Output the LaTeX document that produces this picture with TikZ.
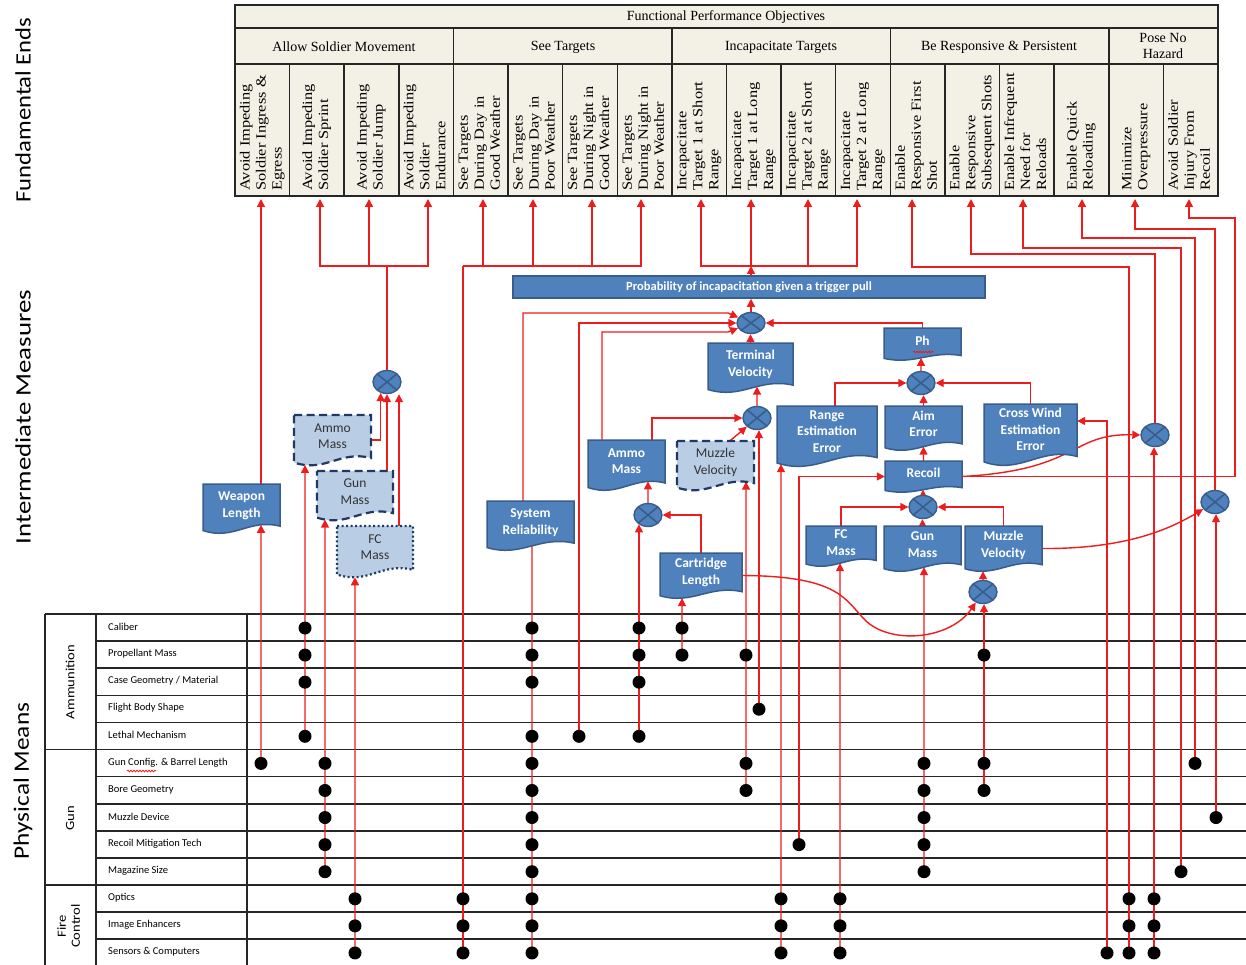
\documentclass[tikz,border=0pt]{standalone}
\usepackage{graphicx}
\usepackage{fontspec}
\setmainfont{Liberation Serif}
\newfontfamily\calfont{Carlito}
\usetikzlibrary{arrows.meta,shapes.geometric,intersections,decorations.pathmorphing}

\definecolor{boxblue}{RGB}{79,129,189}
\definecolor{boxedge}{RGB}{56,93,138}
\definecolor{lightbox}{RGB}{185,205,229}
\definecolor{navy}{RGB}{31,56,100}
\definecolor{wirered}{RGB}{238,28,28}
\definecolor{cream}{RGB}{243,240,230}

\pgfdeclarelayer{grid}
\pgfdeclarelayer{wires}
\pgfsetlayers{grid,wires,main}

% document-shaped box: name, outline style, text style, x, y, w, h, text
\newcommand\docbox[8]{%
  \path[#2,name path global=wave-#1] ({#4-#6/2},{#5-#7/2}) -- ({#4+#6/2},{#5-#7/2})
    -- ({#4+#6/2},{#5+0.36*#7}) .. controls ({#4+0.1*#6},{#5+0.2*#7}) and ({#4-0.1*#6},{#5+0.66*#7})
    .. ({#4-#6/2},{#5+0.45*#7}) -- cycle;
  \node[docnode,#3,minimum width=#6pt,minimum height=#7pt] (#1) at (#4,#5)
    {\raisebox{\dimexpr#7pt*6/100\relax}[\height][\depth]{\begin{tabular}{@{}c@{}}#8\end{tabular}}};%
}
% vertical connector that stops on the wavy bottom edge of a box
\newcommand\rise[3]{%
  \path[name path=riser] (#2) -- ++(0,-700);
  \draw[#1,name intersections={of=riser and wave-#3,sort by=riser,by=tip}] (#2) -- (tip);
}
% a column of matrix dots: name, x, rows
\newcommand\dotcol[3]{\foreach \r in {#3} \node[dot] (#1-\r) at (#2,{628+27.08*\r}) {};}

\begin{document}
\begin{tikzpicture}[x=1pt,y=-1pt,
  wire/.style={wirered,line width=1.4pt},
  arr/.style={wire,-{Triangle[length=8pt,width=8pt]}},
  dot/.style={circle,fill=black,minimum size=13pt,inner sep=0pt},
  omul/.style={ellipse,fill=boxblue,draw=boxedge,line width=1.4pt,minimum width=28pt,
    minimum height=23pt,inner sep=0pt,
    path picture={\draw[boxedge,line width=1.6pt]
      (path picture bounding box.north west)--(path picture bounding box.south east)
      (path picture bounding box.south west)--(path picture bounding box.north east);}},
  solidbox/.style={fill=boxblue,draw=boxedge,line width=1.5pt},
  dashbox/.style={fill=lightbox,draw=navy,line width=2.2pt,dash pattern=on 8pt off 4.5pt},
  dotbox/.style={fill=lightbox,draw=navy,line width=2.2pt,dash pattern=on 2pt off 2.5pt},
  docnode/.style={inner sep=0pt,draw=none},
  wtext/.style={text=white,font=\calfont\bfseries\fontsize{13.5}{16.5}\selectfont},
  dtext/.style={text=black!80,font=\calfont\fontsize{13.5}{16.5}\selectfont},
  gridline/.style={black!85,line width=1.6pt},
  hline/.style={black!85,line width=1.5pt},
  collab/.style={rotate=90,anchor=west,inner sep=0pt,font=\fontsize{14}{16}\selectfont},
  grplab/.style={inner sep=0pt,font=\fontsize{14}{16}\selectfont,align=center},
  rowlab/.style={anchor=west,inner sep=0pt,font=\calfont\fontsize{10.5}{12}\selectfont},
  sidelab/.style={rotate=90,inner sep=0pt,font=\calfont\fontsize{12.5}{14}\selectfont,align=center},
  titlelab/.style={rotate=90,inner sep=0pt,font=\calfont\fontsize{22}{26}\selectfont},
  squiggle/.style={wirered,line width=0.8pt,decorate,decoration={snake,amplitude=0.8pt,segment length=3pt}}
]
\useasboundingbox (0,0) rectangle (1246,965);

% ---------- matrix grid ----------
\begin{pgfonlayer}{grid}
  \fill[white] (0,0) rectangle (1246,965);
  \draw[gridline] (45,614) -- (1246,614);
  \foreach \k in {1,2,3,4,6,7,8,9,11,12}
    \draw[gridline] (96,{614+27.1*\k}) -- (1246,{614+27.1*\k});
  \foreach \k in {5,10}
    \draw[gridline] (45,{614+27.1*\k}) -- (1246,{614+27.1*\k});
  \foreach \x in {45,96,247} \draw[gridline] (\x,614) -- (\x,965);
\end{pgfonlayer}

% ---------- side titles ----------
\node[titlelab] (tFE) at (23,110) {\scalebox{1.12}[1]{Fundamental Ends}};
\node[titlelab] (tIM) at (23,417) {\scalebox{1.22}[1]{Intermediate Measures}};
\node[titlelab] (tPM) at (23,781) {\scalebox{1.15}[1]{Physical Means}};

% ---------- objectives header ----------
\fill[cream] (235,5) rectangle (1218,196);
\draw[hline] (235,28) -- (1218,28);
\draw[hline] (235,64) -- (1218,64);
\foreach \k in {4,8,12,16} \draw[hline] ({235+54.61*\k},28) -- ({235+54.61*\k},196);
\foreach \k in {1,2,3,5,6,7,9,10,11,13,14,15,17} \draw[hline] ({235+54.61*\k},64) -- ({235+54.61*\k},196);
\draw[black!85,line width=2pt] (235,5) rectangle (1218,196);

\node[grplab] (hTitle) at (726,17) {Functional Performance Objectives};
\node[grplab] (gMove) at (344,47) {Allow Soldier Movement};
\node[grplab] (gSee) at (563,47) {See Targets};
\node[grplab] (gInc) at (781,47) {Incapacitate Targets};
\node[grplab] (gResp) at (999,47) {Be Responsive \& Persistent};
\node[grplab] (gHaz) at (1163,46) {Pose No\\Hazard};

\foreach \t [count=\i from 0] in {
  {Avoid Impeding\\Soldier Ingress \&\\Egress},
  {Avoid Impeding\\Soldier Sprint},
  {Avoid Impeding\\Soldier Jump},
  {Avoid Impeding\\Soldier\\Endurance},
  {See Targets\\During Day in\\Good Weather},
  {See Targets\\During Day in\\Poor Weather},
  {See Targets\\During Night in\\Good Weather},
  {See Targets\\During Night in\\Poor Weather},
  {Incapacitate\\Target 1 at Short\\Range},
  {Incapacitate\\Target 1 at Long\\Range},
  {Incapacitate\\Target 2 at Short\\Range},
  {Incapacitate\\Target 2 at Long\\Range},
  {Enable\\Responsive First\\Shot},
  {Enable\\Responsive\\Subsequent Shots},
  {Enable Infrequent\\Need for\\Reloads},
  {Enable Quick\\Reloading},
  {Minimize\\Overpressure},
  {Avoid Soldier\\Injury From\\Recoil}}
  \node[collab] (hcol\i) at ({235+54.61*(\i+0.5)},191)
    {\scalebox{1.17}[1]{\begin{tabular}{@{}l@{}}\t\end{tabular}}};

% arrow ends under the objective columns
\foreach \x [count=\i from 0] in {261,320,369,428,483,533,592,641,701,751,808,857,912,971,1023,1082,1135,1189}
  \coordinate (hdr\i) at (\x,199);
\coordinate (busA) at (387,266);
\coordinate (busB) at (463,266);
\coordinate (busC) at (751,266);

% ---------- intermediate measures ----------
\node[fill=boxblue,draw=boxedge,line width=1.5pt,minimum width=472pt,minimum height=22pt,inner sep=0pt,
  text=white,font=\calfont\bfseries\fontsize{12.5}{14}\selectfont] (bar) at (749,287)
  {Probability of incapacitation given a trigger pull};

\docbox{wl}{solidbox}{wtext}{241.5}{508.5}{77}{49}{Weapon\\Length}
\docbox{amD}{dashbox}{dtext}{332.5}{440}{77}{50}{Ammo\\Mass}
\docbox{gmD}{dashbox}{dtext}{355}{495.5}{76}{49}{Gun\\Mass}
\docbox{fcD}{dotbox}{dtext}{375}{551.5}{76}{51}{FC\\Mass}
\docbox{sr}{solidbox}{wtext}{530.5}{525.5}{87}{49}{System\\Reliability}
\docbox{am}{solidbox}{wtext}{626.5}{465}{77}{50}{Ammo\\Mass}
\docbox{mvD}{dashbox}{dtext}{715.5}{465.5}{77}{49}{Muzzle\\Velocity}
\docbox{cl}{solidbox}{wtext}{701}{575.5}{82}{45}{Cartridge\\Length}
\docbox{tv}{solidbox}{wtext}{750.5}{367.5}{85}{49}{Terminal\\Velocity}
\docbox{ph}{solidbox}{wtext}{922.5}{344}{77}{32}{Ph}
\docbox{ree}{solidbox}{wtext}{827}{436}{100}{60}{Range\\Estimation\\Error}
\docbox{ae}{solidbox}{wtext}{923.5}{428}{77}{44}{Aim\\Error}
\docbox{cwe}{solidbox}{wtext}{1030.5}{434.5}{93}{61}{Cross Wind\\Estimation\\Error}
\docbox{rec}{solidbox}{wtext}{923.5}{476.5}{77}{31}{Recoil}
\docbox{fc}{solidbox}{wtext}{841}{546}{70}{40}{FC\\Mass}
\docbox{gm}{solidbox}{wtext}{922.5}{548.5}{77}{45}{Gun\\Mass}
\docbox{mv}{solidbox}{wtext}{1003.5}{548.5}{77}{45}{Muzzle\\Velocity}
\draw[squiggle] (913,352) -- (934,352);

\node[omul] (oA) at (387,382) {};
\node[omul,minimum height=21pt] (oP) at (751,323) {};
\node[omul] (oE) at (757,418) {};
\node[omul] (oD) at (648,515) {};
\node[omul] (oG) at (921,383) {};
\node[omul] (oH) at (923,507) {};
\node[omul] (oF) at (983,592) {};
\node[omul] (oB) at (1155,435) {};
\node[omul] (oC) at (1215,502) {};

% ---------- physical means ----------
\node[sidelab] (sAmmo) at (70,682) {\scalebox{1.17}[1]{Ammunition}};
\node[sidelab] (sGun) at (70,818) {\scalebox{1.17}[1]{Gun}};
\node[sidelab] (sFC) at (70,926) {\scalebox{1.17}[1]{\begin{tabular}{@{}c@{}}Fire\\Control\end{tabular}}};
\foreach \t [count=\i from 0] in {Caliber,Propellant Mass,Case Geometry / Material,Flight Body Shape,
  Lethal Mechanism,Gun Config. \& Barrel Length,Bore Geometry,Muzzle Device,Recoil Mitigation Tech,
  Magazine Size,Optics,Image Enhancers,Sensors \& Computers}
  \node[rowlab] (row\i) at (108,{627+27.08*\i}) {\t};
\draw[squiggle] (127,771) -- (156,771);

\dotcol{wlen}{261}{5}
\dotcol{amd}{305}{0,1,2,4}
\dotcol{gmd}{325}{5,6,7,8,9}
\dotcol{fcd}{355}{10,11,12}
\dotcol{see}{463}{10,11,12}
\dotcol{rel}{532}{0,1,2,4,5,6,7,8,9,10,11,12}
\dotcol{leth}{579}{4}
\dotcol{amo}{639}{0,1,2,4}
\dotcol{cart}{682}{0,1}
\dotcol{mvd}{746}{1,5,6}
\dotcol{fb}{759}{3}
\dotcol{rng}{781}{10,11,12}
\dotcol{rcm}{799}{8}
\dotcol{fcm}{840}{10,11,12}
\dotcol{gun}{924}{5,6,7,8,9}
\dotcol{mvo}{984}{1,5,6}
\dotcol{cw}{1107}{12}
\dotcol{frs}{1129}{10,11,12}
\dotcol{sub}{1154}{10,11,12}
\dotcol{rld}{1181}{9}
\dotcol{qrl}{1195}{5}
\dotcol{ovp}{1216}{7}

% ---------- connectors ----------
\begin{pgfonlayer}{wires}
  % soldier movement
  \draw[wire] (oA.north) -- (busA);
  \foreach \c in {1,2,3} \draw[arr] (busA) -| (hdr\c);
  \draw[arr] (wl.north -| hdr0) -- (hdr0);
  \draw[arr] (amD.east) -| (oA.240);
  \draw[arr] ([xshift=32pt]gmD.north) -- ([xshift=32pt]gmD.north |- oA.south);
  \draw[arr] ([xshift=24pt]fcD.north) -- ([xshift=24pt]fcD.north |- oA.south);
  \rise{arr}{wlen-5.center}{wl}
  \rise{arr}{amd-4.center}{amD}
  \rise{arr}{gmd-9.center}{gmD}
  \rise{arr}{fcd-12.center}{fcD}
  % seeing targets
  \draw[wire] (see-12.center) -- (busB);
  \foreach \c in {4,5,6,7} \draw[arr] (busB) -| (hdr\c);
  % incapacitation
  \draw[arr] (bar.north -| busC) -- (busC);
  \foreach \c in {8,9,10,11} \draw[arr] (busC) -| (hdr\c);
  \rise{wire}{rel-12.center}{sr}
  \draw[arr] ([xshift=-7.5pt]sr.north) |- (728,313) -- (oP);
  \draw[arr] (leth-4.center) |- (oP.west);
  \draw[arr] ([xshift=-24.5pt]am.north) |- (728,332) -- (oP);
  \draw[arr] (ph.north) |- (oP.east);
  \draw[arr] (tv.north) -- (tv.north |- oP.south);
  \draw[arr] (oP.north) -- (oP.north |- bar.south);
  \rise{arr}{oE.north}{tv}
  \draw[arr] ([xshift=25.5pt]am.north) |- (oE.west);
  \draw[arr] ([xshift=14.5pt]mvD.north) -- (oE);
  \draw[arr] (fb-3.center) -- (fb-3.center |- oE.south);
  \rise{arr}{mvd-6.center}{mvD}
  \rise{arr}{oD.north}{am}
  \draw[arr] (cl.north) |- (oD.east);
  \draw[arr] (amo-4.center) -- (amo-4.center |- oD.225);
  \rise{arr}{cart-1.center}{cl}
  \draw[arr] (cl.east) .. controls (840,576) and (845,600) .. (865,620)
    .. controls (890,645) and (950,640) .. (oF);
  % hit probability and recoil
  \draw[arr] ([xshift=8pt]ree.north) |- (oG.west);
  \draw[arr] (ae.north) -- (ae.north |- oG.south);
  \draw[arr] (cwe.north) |- (oG.east);
  \rise{arr}{oG.north}{ph}
  \rise{arr}{rec.north}{ae}
  \rise{arr}{oH.north}{rec}
  \draw[arr] (fc.north) |- (oH.west);
  \draw[arr] (gm.north) -- (gm.north |- oH.south);
  \draw[arr] (mv.north) |- (oH.east);
  \draw[arr] (rcm-8.center) |- (rec.west);
  \rise{arr}{rng-12.center}{ree}
  \rise{arr}{fcm-12.center}{fc}
  \rise{arr}{gun-9.center}{gm}
  \draw[arr] (mvo-6.center) -- (mvo-6.center |- oF.south);
  \rise{arr}{oF.north}{mv}
  \draw[arr] (cw-12.center) |- ([yshift=13.5pt]cwe.east);
  \draw[arr] (rec.east) .. controls (1080,470) and (1070,433) .. (oB.west);
  \draw[arr] (sub-12.center) -- (sub-12.center |- oB.south);
  \draw[arr] (mv.east) .. controls (1120,549) and (1165,532) .. (oC);
  \draw[arr] (ovp-7.center) -- (ovp-7.center |- oC.south);
  % responsiveness and hazard objectives
  \draw[arr] (frs-12.center) -- (1129,267) -| (hdr12);
  \draw[arr] (oB.north) -- (1155,254) -| (hdr13);
  \draw[arr] (rld-9.center) -- (1181,248) -| (hdr14);
  \draw[arr] (qrl-5.center) -- (1195,238) -| (hdr15);
  \draw[arr] (oC.north) -- (1215,229) -| (hdr16);
  \draw[arr] (rec.east) -- (1235,476.5) -- (1235,218) -| (hdr17);
\end{pgfonlayer}
\end{tikzpicture}
\end{document}
